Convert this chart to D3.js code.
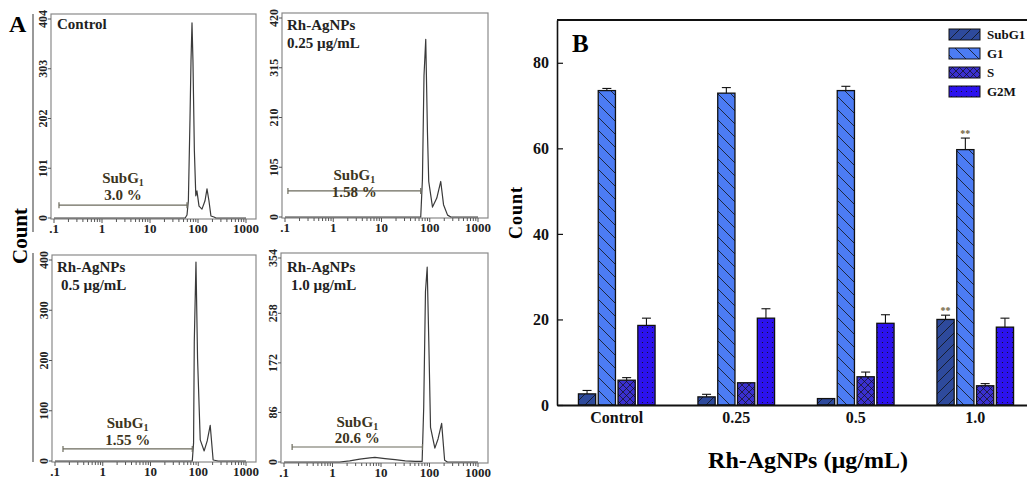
<!DOCTYPE html>
<html>
<head>
<meta charset="utf-8">
<script src="https://cdn.jsdelivr.net/npm/d3@7/dist/d3.min.js"></script>
<style>
body { margin: 0; background: #fff; }
svg { font-family: "Liberation Serif", "Times New Roman", serif; font-weight: bold; }
</style>
</head>
<body>
<svg id="fig" width="1027" height="481"></svg>
<script>
// ---- panel A : DNA histograms, [channel, count]
var histControl = [[0.1,0],[54,0],[59,6],[63,35],[68,198],[71.5,320],[75,396],[78.5,320],[84,137],[90,45],[95,55],[105,24],[121,18],[140,35],[154,59],[169,35],[186,4],[215,2],[237,0],[1000,0]];
var hist025 = [[0.1,0],[65,0],[70.5,79],[76,298],[82.6,375],[89.6,179],[95.3,75],[114,21],[140,40],[169,75],[193,26],[234,4],[274,0],[1000,0]];
var hist05 = [[0.1,0],[75,0],[79.8,36],[82.6,238],[89.6,396],[96.7,204],[110,42],[133,20],[154,40],[178,71],[205,2],[261,0],[1000,0]];
var hist10 = [[0.1,0],[1.4,0],[2.26,2],[3.65,5],[5.9,7],[7.5,8],[12.1,6],[19.5,4],[31.6,2],[51,1],[70.5,1],[76,95],[82.6,296],[89.6,338],[96.7,210],[105,60],[129,24],[150,40],[178,67],[205,3],[234,0],[1000,0]];

var histTitles = [["Control"], ["Rh-AgNPs", "0.25 \u00b5g/mL"], ["Rh-AgNPs", "0.5 \u00b5g/mL"], ["Rh-AgNPs", "1.0 \u00b5g/mL"]];
var subG1Pct = ["3.0 %", "1.58 %", "1.55 %", "20.6 %"];
// gate: [from channel, to channel, count level]
var gates = [[0.127, 59, 26], [0.115, 65, 55], [0.147, 75, 24], [0.147, 71.5, 26]];
var yTicksA = [[0,101,202,303,404], [0,105,210,315,420], [0,100,200,300,400], [0,86,172,258,354]];
var xTicksA = [0.1, 1, 10, 100, 1000];
var xTickLabelsA = [".1", "1", "10", "100", "1000"];

// ---- panel B : cell-cycle distribution
var doses = ["Control", "0.25", "0.5", "1.0"];
var phases = ["SubG1", "G1", "S", "G2M"];
var subG1 = [2.6, 1.9, 1.5, 20.0];
var subG1Err = [0.8, 0.6, 0, 1.0];
var g1 = [73.5, 72.9, 73.5, 59.7];
var g1Err = [0.5, 1.3, 1.0, 2.7];
var sPhase = [5.8, 5.2, 6.6, 4.5];
var sErr = [0.6, 0, 1.1, 0.5];
var g2m = [18.6, 20.3, 19.1, 18.2];
var g2mErr = [1.7, 2.2, 2.0, 2.1];
var subG1Sig = ["", "", "", "**"];
var g1Sig = ["", "", "", "**"];
var yTicksB = [0, 20, 40, 60, 80];

var svg = d3.select("#fig");

// ================= panel A =================
var panels = [
  {hist: histControl, x: 51, y: 14, w: 205, h: 205, tx: 6, ty: [15], lbl: [-22, -5]},
  {hist: hist025, x: 282, y: 13, w: 206, h: 205, tx: 5, ty: [17, 35], lbl: [-11, 6]},
  {hist: hist05, x: 52, y: 255, w: 204, h: 207, tx: 5, ty: [17, 35], lbl: [-21, -4]},
  {hist: hist10, x: 281, y: 253, w: 207, h: 210, tx: 6, ty: [19, 37], lbl: [-20, -4]}
];

var minorA = [];
[0.1, 1, 10, 100].forEach(function(d) {
  for (var k = 2; k <= 9; k++) minorA.push(d * k);
});

svg.append("text").attr("x", 9).attr("y", 32).attr("font-size", 24).text("A");
svg.append("text")
  .attr("transform", "translate(27,236) rotate(-90)")
  .attr("text-anchor", "middle").attr("font-size", 21).text("Count");
svg.append("line").attr("x1", 33).attr("x2", 33).attr("y1", 14).attr("y2", 232)
  .attr("stroke", "#555").attr("stroke-width", 1.2);
svg.append("line").attr("x1", 33).attr("x2", 33).attr("y1", 253).attr("y2", 462)
  .attr("stroke", "#555").attr("stroke-width", 1.2);

panels.forEach(function(p, i) {
  var g = svg.append("g");
  var x = d3.scaleLog().domain([0.1, 1000]).range([p.x + 3, p.x + p.w - 10]);
  var yMax = yTicksA[i][yTicksA[i].length - 1];
  var y = d3.scaleLinear().domain([0, yMax]).range([p.y + p.h - 1, p.y + 5]);
  var bottom = p.y + p.h;

  g.append("rect").attr("x", p.x).attr("y", p.y).attr("width", p.w).attr("height", p.h)
    .attr("fill", "none").attr("stroke", "#8a8a8a").attr("stroke-width", 1.2);

  // x ticks
  g.selectAll(".mn").data(minorA).enter().append("line")
    .attr("x1", function(d) { return x(d); }).attr("x2", function(d) { return x(d); })
    .attr("y1", bottom).attr("y2", bottom + 3)
    .attr("stroke", "#555").attr("stroke-width", 1);
  g.selectAll(".mj").data(xTicksA).enter().append("line")
    .attr("x1", function(d) { return x(d); }).attr("x2", function(d) { return x(d); })
    .attr("y1", bottom).attr("y2", bottom + 4)
    .attr("stroke", "#555").attr("stroke-width", 1);
  g.selectAll(".xl").data(xTicksA).enter().append("text")
    .attr("x", function(d) { return x(d); }).attr("y", bottom + 14)
    .attr("text-anchor", "middle").attr("font-size", 13).attr("fill", "#222")
    .text(function(d, j) { return xTickLabelsA[j]; });

  // y ticks
  g.selectAll(".yt").data(yTicksA[i]).enter().append("line")
    .attr("x1", p.x - 3).attr("x2", p.x)
    .attr("y1", function(d) { return y(d); }).attr("y2", function(d) { return y(d); })
    .attr("stroke", "#555");
  g.selectAll(".yl").data(yTicksA[i]).enter().append("text")
    .attr("transform", function(d) { return "translate(" + (p.x - 4) + "," + y(d) + ") rotate(-90)"; })
    .attr("text-anchor", "middle").attr("font-size", 12).attr("fill", "#222")
    .text(function(d) { return d; });

  // histogram
  var line = d3.line().x(function(d) { return x(d[0]); }).y(function(d) { return y(d[1]); });
  g.append("path").datum(p.hist).attr("d", line)
    .attr("fill", "none").attr("stroke", "#3a3a3a").attr("stroke-width", 1.2)
    .attr("stroke-linejoin", "round");

  // gate
  var gt = gates[i], gy = y(gt[2]);
  g.append("line").attr("x1", x(gt[0])).attr("x2", x(gt[1])).attr("y1", gy).attr("y2", gy)
    .attr("stroke", "#6b6a5c").attr("stroke-width", 1.2);
  [gt[0], gt[1]].forEach(function(v) {
    g.append("line").attr("x1", x(v)).attr("x2", x(v)).attr("y1", gy - 3).attr("y2", gy + 3)
      .attr("stroke", "#6b6a5c").attr("stroke-width", 1.2);
  });
  var cx = (x(gt[0]) + x(gt[1])) / 2;
  var t1 = g.append("text").attr("x", cx).attr("y", gy + p.lbl[0])
    .attr("text-anchor", "middle").attr("font-size", 15).attr("fill", "#3d3520");
  t1.append("tspan").text("SubG");
  t1.append("tspan").attr("font-size", 10).attr("dy", 3).text("1");
  g.append("text").attr("x", cx).attr("y", gy + p.lbl[1])
    .attr("text-anchor", "middle").attr("font-size", 15).attr("fill", "#3d3520")
    .text(subG1Pct[i]);

  // title
  histTitles[i].forEach(function(t, j) {
    g.append("text").attr("x", p.x + p.tx + (j > 0 && i > 1 ? 4 : 0)).attr("y", p.y + p.ty[j])
      .attr("font-size", 15).attr("fill", "#222").text(t);
  });
});

// ================= panel B =================
var defs = svg.append("defs");
var colors = {SubG1: "#2e4a9c", G1: "#4c7cf4", S: "#3a30d0", G2M: "#2c12ee"};

function addPattern(id, size, fill, draw) {
  var pt = defs.append("pattern").attr("id", id).attr("patternUnits", "userSpaceOnUse")
    .attr("width", size).attr("height", size);
  pt.append("rect").attr("width", size).attr("height", size).attr("fill", fill);
  draw(pt, size);
}
addPattern("pSubG1", 11, colors.SubG1, function(pt, s) {
  pt.append("path").attr("d", "M-1,1 l2,-2 M0," + s + " l" + s + ",-" + s + " M" + (s - 1) + "," + (s + 1) + " l2,-2")
    .attr("stroke", "#111").attr("stroke-width", 0.8);
});
addPattern("pG1", 13, colors.G1, function(pt, s) {
  pt.append("path").attr("d", "M-1," + (s - 1) + " l2,2 M0,0 l" + s + "," + s + " M" + (s - 1) + ",-1 l2,2")
    .attr("stroke", "#111").attr("stroke-width", 0.8);
});
addPattern("pS", 7, colors.S, function(pt, s) {
  pt.append("path").attr("d", "M0,0 L" + s + "," + s + " M0," + s + " L" + s + ",0")
    .attr("stroke", "#111").attr("stroke-width", 0.7);
});
addPattern("pG2M", 5, colors.G2M, function(pt, s) {
  pt.append("circle").attr("cx", 2.5).attr("cy", 2.5).attr("r", 0.6).attr("fill", "#111");
});
var fills = {SubG1: "url(#pSubG1)", G1: "url(#pG1)", S: "url(#pS)", G2M: "url(#pG2M)"};

var series = {
  SubG1: {v: subG1, e: subG1Err, sig: subG1Sig},
  G1: {v: g1, e: g1Err, sig: g1Sig},
  S: {v: sPhase, e: sErr},
  G2M: {v: g2m, e: g2mErr}
};

var bx0 = 557, bTop = 20, bBottom = 405;
var xB = d3.scaleBand().domain(doses).range([bx0, bx0 + 4 * 119.5]);
var xIn = d3.scaleBand().domain(phases).range([-39.5, 39.5]).paddingInner(0.13).paddingOuter(0.06);
var yB = d3.scaleLinear().domain([0, 90]).range([bBottom, bTop]);

var gb = svg.append("g");

var rows = [];
phases.forEach(function(ph) {
  doses.forEach(function(d, i) {
    rows.push({phase: ph, dose: d, v: series[ph].v[i], e: series[ph].e[i],
      sig: series[ph].sig ? series[ph].sig[i] : ""});
  });
});

function bxPos(r) { return xB(r.dose) + xB.bandwidth() / 2 + xIn(r.phase); }

gb.selectAll(".bar").data(rows).enter().append("rect")
  .attr("x", bxPos).attr("width", xIn.bandwidth())
  .attr("y", function(r) { return yB(r.v); })
  .attr("height", function(r) { return bBottom - yB(r.v); })
  .attr("fill", function(r) { return fills[r.phase]; })
  .attr("stroke", "#111").attr("stroke-width", 1.3);

var errRows = rows.filter(function(r) { return r.e > 0; });
gb.selectAll(".ev").data(errRows).enter().append("line")
  .attr("x1", function(r) { return bxPos(r) + xIn.bandwidth() / 2; })
  .attr("x2", function(r) { return bxPos(r) + xIn.bandwidth() / 2; })
  .attr("y1", function(r) { return yB(r.v); })
  .attr("y2", function(r) { return yB(r.v + r.e); })
  .attr("stroke", "#111").attr("stroke-width", 1.1);
gb.selectAll(".ec").data(errRows).enter().append("line")
  .attr("x1", function(r) { return bxPos(r) + xIn.bandwidth() / 2 - 4.5; })
  .attr("x2", function(r) { return bxPos(r) + xIn.bandwidth() / 2 + 4.5; })
  .attr("y1", function(r) { return yB(r.v + r.e); })
  .attr("y2", function(r) { return yB(r.v + r.e); })
  .attr("stroke", "#111").attr("stroke-width", 1.1);
gb.selectAll(".sig").data(rows.filter(function(r) { return r.sig; })).enter().append("text")
  .attr("x", function(r) { return bxPos(r) + xIn.bandwidth() / 2; })
  .attr("y", function(r) { return yB(r.v + r.e) - 1; })
  .attr("text-anchor", "middle").attr("font-size", 10).attr("fill", "#6e6040")
  .text(function(r) { return r.sig; });

// axes
var yAxis = d3.axisLeft(yB).tickValues(yTicksB).tickSize(-6).tickSizeOuter(0).tickPadding(8);
var ya = gb.append("g").attr("transform", "translate(" + bx0 + ",0)").call(yAxis);
ya.select(".domain").attr("stroke", "#111").attr("stroke-width", 1.6);
ya.selectAll(".tick line").attr("stroke", "#111").attr("stroke-width", 1.2);
ya.selectAll(".tick text").attr("font-size", 16).attr("fill", "#111")
  .attr("font-family", "Liberation Serif, Times New Roman, serif").attr("font-weight", "bold");

var xAxis = d3.axisBottom(xB).tickSize(0).tickSizeOuter(0).tickPadding(7);
var xa = gb.append("g").attr("transform", "translate(0," + bBottom + ")").call(xAxis);
xa.select(".domain").attr("stroke", "#111").attr("stroke-width", 1.8);
xa.selectAll(".tick text").attr("font-size", 16).attr("fill", "#111")
  .attr("font-family", "Liberation Serif, Times New Roman, serif").attr("font-weight", "bold");

gb.append("line").attr("x1", bx0).attr("x2", bx0 + 4 * 119.5).attr("y1", bTop).attr("y2", bTop)
  .attr("stroke", "#111").attr("stroke-width", 2);

gb.append("text").attr("x", 572).attr("y", 52).attr("font-size", 25).text("B");
gb.append("text").attr("transform", "translate(522," + ((bTop + bBottom) / 2) + ") rotate(-90)")
  .attr("text-anchor", "middle").attr("font-size", 18).attr("letter-spacing", 1).text("Count");
gb.append("text").attr("x", 808).attr("y", 468).attr("text-anchor", "middle")
  .attr("font-size", 24).text("Rh-AgNPs (\u00b5g/mL)");

// legend
var lg = gb.append("g").attr("transform", "translate(949,29)");
lg.selectAll("rect").data(phases).enter().append("rect")
  .attr("x", 0).attr("y", function(d, i) { return i * 19; })
  .attr("width", 31).attr("height", 11)
  .attr("fill", function(d) { return fills[d]; })
  .attr("stroke", "#111").attr("stroke-width", 1);
lg.selectAll("text").data(phases).enter().append("text")
  .attr("x", 38).attr("y", function(d, i) { return i * 19 + 10; })
  .attr("font-size", 13).attr("fill", "#111")
  .text(function(d) { return d; });
</script>
</body>
</html>
